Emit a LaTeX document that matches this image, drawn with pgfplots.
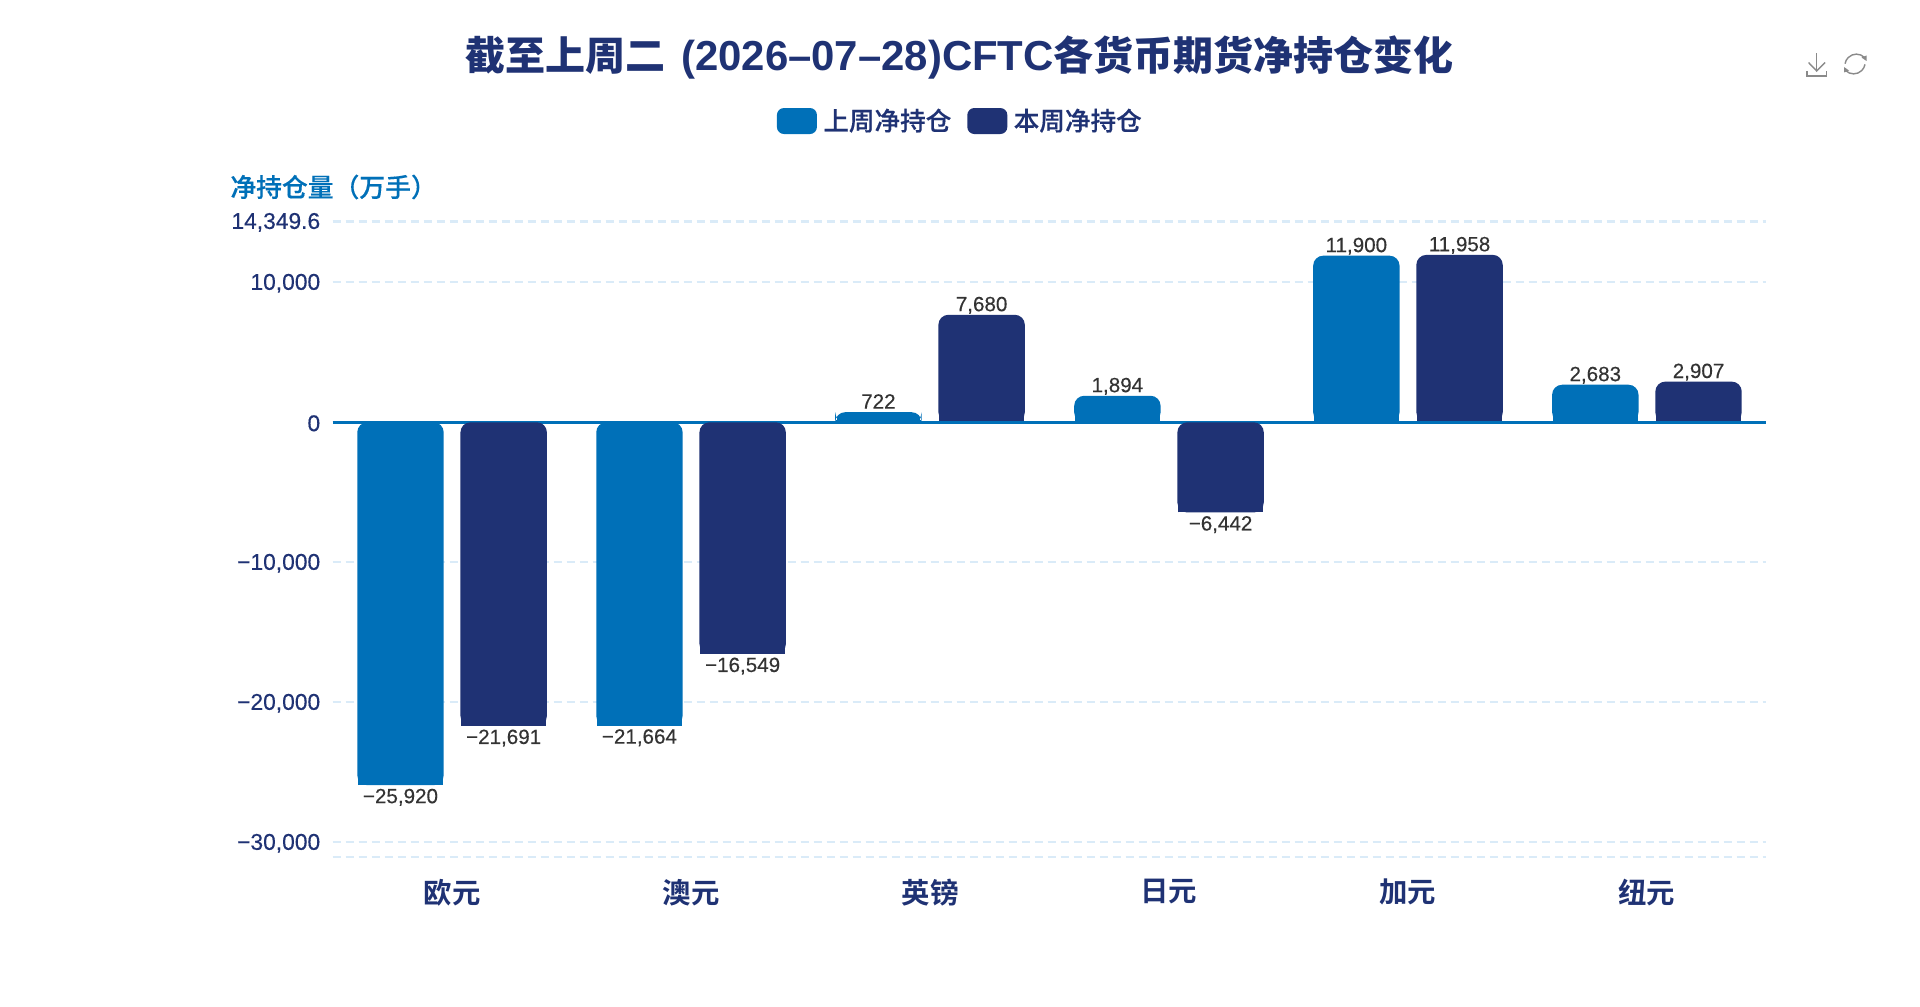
\documentclass[border=0pt]{standalone}
\usepackage{fontspec}
\usepackage{pgfplots}
\pgfplotsset{compat=1.18}
\setmainfont{Liberation Sans}
\newfontfamily\med[FakeBold=0.3]{Liberation Sans}
\newfontfamily\cjk[FakeBold=0.3]{Noto Sans CJK SC Medium}
\newfontfamily\cjkb{Noto Sans CJK SC Bold}
\definecolor{blueA}{HTML}{0070B8}
\definecolor{navyA}{HTML}{1F3274}
\definecolor{gridA}{HTML}{DAEBF8}
\definecolor{labA}{HTML}{333333}
\definecolor{iconA}{HTML}{8A8A8A}

\pgfplotsset{
  barlabels/.style={
    point meta=explicit symbolic,nodes near coords,
    visualization depends on={value \thisrow{anch}\as\myanchor},
    every node near coord/.append style={font=\med\fontsize{10.3pt}{12pt}\selectfont,text=labA,
      inner sep=1pt,rounded corners=0pt,anchor=\myanchor,text height=7.8pt,text depth=0.6pt,xshift=#1}},
}

\begin{document}
\begin{tikzpicture}
\path[use as bounding box,fill=white] (0,0) rectangle (960pt,-503pt);
\begin{axis}[
at={(166.3pt,-428.35pt)},anchor=south west,
scale only axis,
width=716.9pt,height=317.65pt,
xmin=-0.5,xmax=5.5,
ymin=-31029,ymax=14349.6,
scaled y ticks=false,
xtick={0,1,2,3,4,5},
xticklabels={欧元,澳元,英镑,日元,加元,纽元},
ytick={-31029,-30000,-20000,-10000,0,10000,14349.6},
yticklabels={,{−30,000},{−20,000},{−10,000},0,{10,000},{14,349.6}},
x tick label style={font=\cjkb\fontsize{14.2pt}{16pt}\selectfont,text=navyA,inner sep=0pt,yshift=-11pt},
y tick label style={font=\med\fontsize{11.4pt}{13pt}\selectfont,text=navyA,inner sep=0pt,xshift=-6pt,yshift=-0.5pt},
major tick length=0pt,
axis line style={draw=none},
ymajorgrids=true,
grid style={gridA,line width=1.1pt,dash pattern=on 4pt off 2.5pt},
legend style={at={(0.4385,1.158)},anchor=center,draw=none,fill=none,inner sep=0pt,
  font=\cjk\fontsize{12.8pt}{15pt}\selectfont,text=navyA,legend columns=2,
  /tikz/every odd column/.append style={column sep=1.2pt},
  /tikz/every even column/.append style={column sep=6pt}},
legend cell align=left,
legend image code/.code={\path[#1,rounded corners=3.5pt] (0pt,-6.5pt) rectangle (20pt,6.5pt);},
]
\addlegendimage{fill=blueA,draw=none}
\addlegendentry{上周净持仓}
\addlegendimage{fill=navyA,draw=none}
\addlegendentry{本周净持仓}

\addplot[forget plot,blueA,line width=1.3pt] coordinates {(-0.5,0)(5.5,0)};

\addplot[forget plot,ybar,fill=blueA,draw=none,bar width=43.2pt,bar shift=-25.8pt,rounded corners=5pt,barlabels=-25.8pt]
  table[x=x,y=y,meta=lab] {
x y lab anch
0 -25920 −25,920 north
1 -21664 −21,664 north
2 722 722 south
3 1894 1,894 south
4 11900 11,900 south
5 2683 2,683 south
};
\addplot[forget plot,ybar,fill=navyA,draw=none,bar width=43.2pt,bar shift=25.8pt,rounded corners=5pt,barlabels=25.8pt]
  table[x=x,y=y,meta=lab] {
x y lab anch
0 -21691 −21,691 north
1 -16549 −16,549 north
2 7680 7,680 south
3 -6442 −6,442 north
4 11958 11,958 south
5 2907 2,907 south
};

% squared-off ends, the bars are only rounded on their upper side
\addplot[forget plot,blueA,line width=42.8pt,unbounded coords=jump] coordinates {
(-0.2159,-25920)(-0.2159,-25200)(nan,nan)
(0.7841,-21664)(0.7841,-20950)(nan,nan)
(1.7841,0)(1.7841,180)(nan,nan)
(2.7841,0)(2.7841,714)(nan,nan)
(3.7841,0)(3.7841,714)(nan,nan)
(4.7841,0)(4.7841,714)
};
% the 722 bar is lower than two corners, so its end narrows in steps
\addplot[forget plot,blueA,line width=41.6pt] coordinates {(1.7841,0)(1.7841,360)};
\addplot[forget plot,blueA,line width=40pt] coordinates {(1.7841,0)(1.7841,500)};
\addplot[forget plot,navyA,line width=42.8pt,unbounded coords=jump] coordinates {
(0.2159,-21691)(0.2159,-20977)(nan,nan)
(1.2159,-16549)(1.2159,-15835)(nan,nan)
(2.2159,0)(2.2159,714)(nan,nan)
(3.2159,-6442)(3.2159,-5728)(nan,nan)
(4.2159,0)(4.2159,714)(nan,nan)
(5.2159,0)(5.2159,714)
};
% the zero line stays visible below the positive bars
\addplot[forget plot,blueA,line width=1.3pt,unbounded coords=jump] coordinates {
(1.5,0)(3.03,0)(nan,nan)(3.40,0)(5.5,0)
};
\end{axis}

\begin{scope}[x=0.5pt,y=-0.5pt]
% title and y axis name
\node[anchor=center,text=navyA,font=\bfseries] at (959.5,57)
  {{\cjkb\fontsize{20pt}{24pt}\selectfont 截至上周二}\hspace{8pt}{\fontsize{20.95pt}{24pt}\selectfont (2026–07–28)CFTC}{\cjkb\fontsize{20pt}{24pt}\selectfont 各货币期货净持仓变化}};
\node[anchor=west,inner sep=0pt,text=blueA,font=\cjk\fontsize{12.9pt}{15pt}\selectfont] at (230,187) {净持仓量（万手）};

% toolbox icons
\begin{scope}[iconA,line width=0.7pt]
\draw (1816.7,53.5) -- (1816.7,71);
\draw (1808.5,62.5) -- (1816.7,71) -- (1825,62.5);
\draw (1807,71) -- (1807,76) -- (1826.5,76) -- (1826.5,71);
\draw (1864.5,57.5) arc[start angle=-45,end angle=-170,radius=11.5];
\draw (1845.5,70.5) arc[start angle=135,end angle=10,radius=11.5];
\fill (1866.5,61) -- (1861.5,57.5) -- (1866.5,55.5) -- cycle;
\fill (1844,67) -- (1849,70.5) -- (1844,72.5) -- cycle;
\end{scope}
\end{scope}
\end{tikzpicture}
\end{document}
